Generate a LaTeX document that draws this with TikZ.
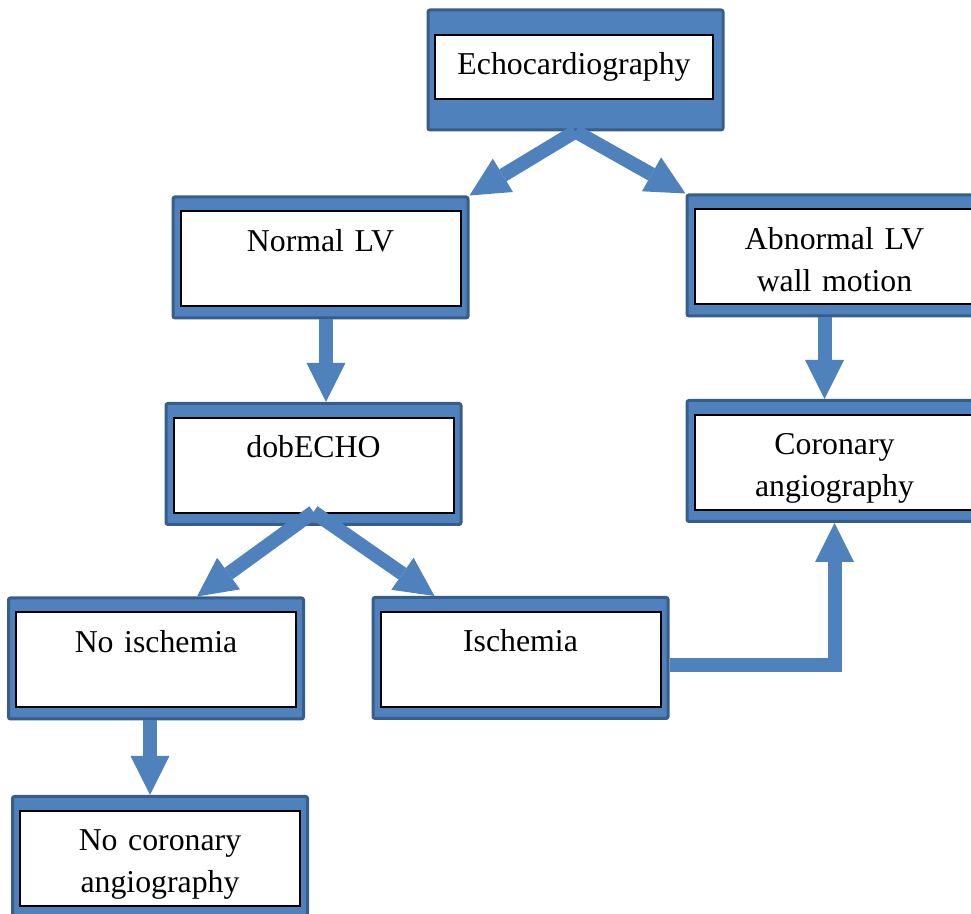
\documentclass[tikz,border=0pt]{standalone}
\usepackage{fontspec}
\setmainfont{Liberation Serif}
\usetikzlibrary{arrows.meta,calc}

\definecolor{boxblue}{RGB}{79,129,189}
\definecolor{boxline}{RGB}{56,93,138}

\tikzset{
  box/.style={draw=boxline, fill=boxblue, line width=1.5pt, rounded corners=1pt,
    minimum width=147.5pt, minimum height=60.5pt, inner sep=0pt},
  boxtext/.style={draw=black, fill=white, line width=1pt, inner sep=0pt,
    text width=140pt, align=center, text height=20pt, text depth=27.5pt,
    font=\fontsize{15.9}{21}\selectfont},
  flow/.style={draw=boxblue, line width=7pt,
    -{Triangle[length=19.5pt, width=19.5pt, line width=0pt 0 0]}},
}

\begin{document}
\begin{tikzpicture}[x=0.5pt, y=-0.5pt]

\useasboundingbox (0,0) rectangle (971,914);

% top box
\node[box, minimum height=60pt] (echo) at (575.5,70) {};
\node[boxtext, text width=139pt, text depth=12pt] (echo-in) at ([xshift=-0.75pt, yshift=1.5pt]echo.center) {Echocardiography};

\foreach \name/\x/\y/\txt in {
  normal/320.5/257.5/{Normal LV},
  abnormal/834.5/255.5/{Abnormal LV\\wall motion},
  dob/313.5/464/{dobECHO},
  coronary/834.5/461/{Coronary\\angiography},
  noisch/156/658.5/{No ischemia},
  isch/520.5/658/{Ischemia},
  nocor/160/857/{No coronary\\angiography}%
}{
  \node[box] (\name) at (\x,\y) {};
  \node[boxtext] (\name-in) at ([yshift=-0.75pt]\name.center) {\txt};
}

\draw[flow] (echo.south) -- (normal.north east);
\draw[flow] (echo.south) -- (abnormal.north west);
\draw[flow] ([xshift=2.75pt]normal.south) -- ([xshift=2.75pt]normal.south |- dob.north);
\draw[flow] ([xshift=-5pt]abnormal.south) -- ([xshift=-5pt]abnormal.south |- coronary.north);
\draw[flow] ([yshift=7pt]dob.south) -- ([xshift=20.5pt]noisch.north);
\draw[flow] ([yshift=7pt]dob.south) -- ([xshift=-43pt]isch.north);
\draw[flow] ([xshift=-3pt]noisch.south) -- ([xshift=-3pt]noisch.south |- nocor.north);
\draw[flow] ([yshift=-3.5pt]isch.east) -| (coronary.south);

\end{tikzpicture}
\end{document}
